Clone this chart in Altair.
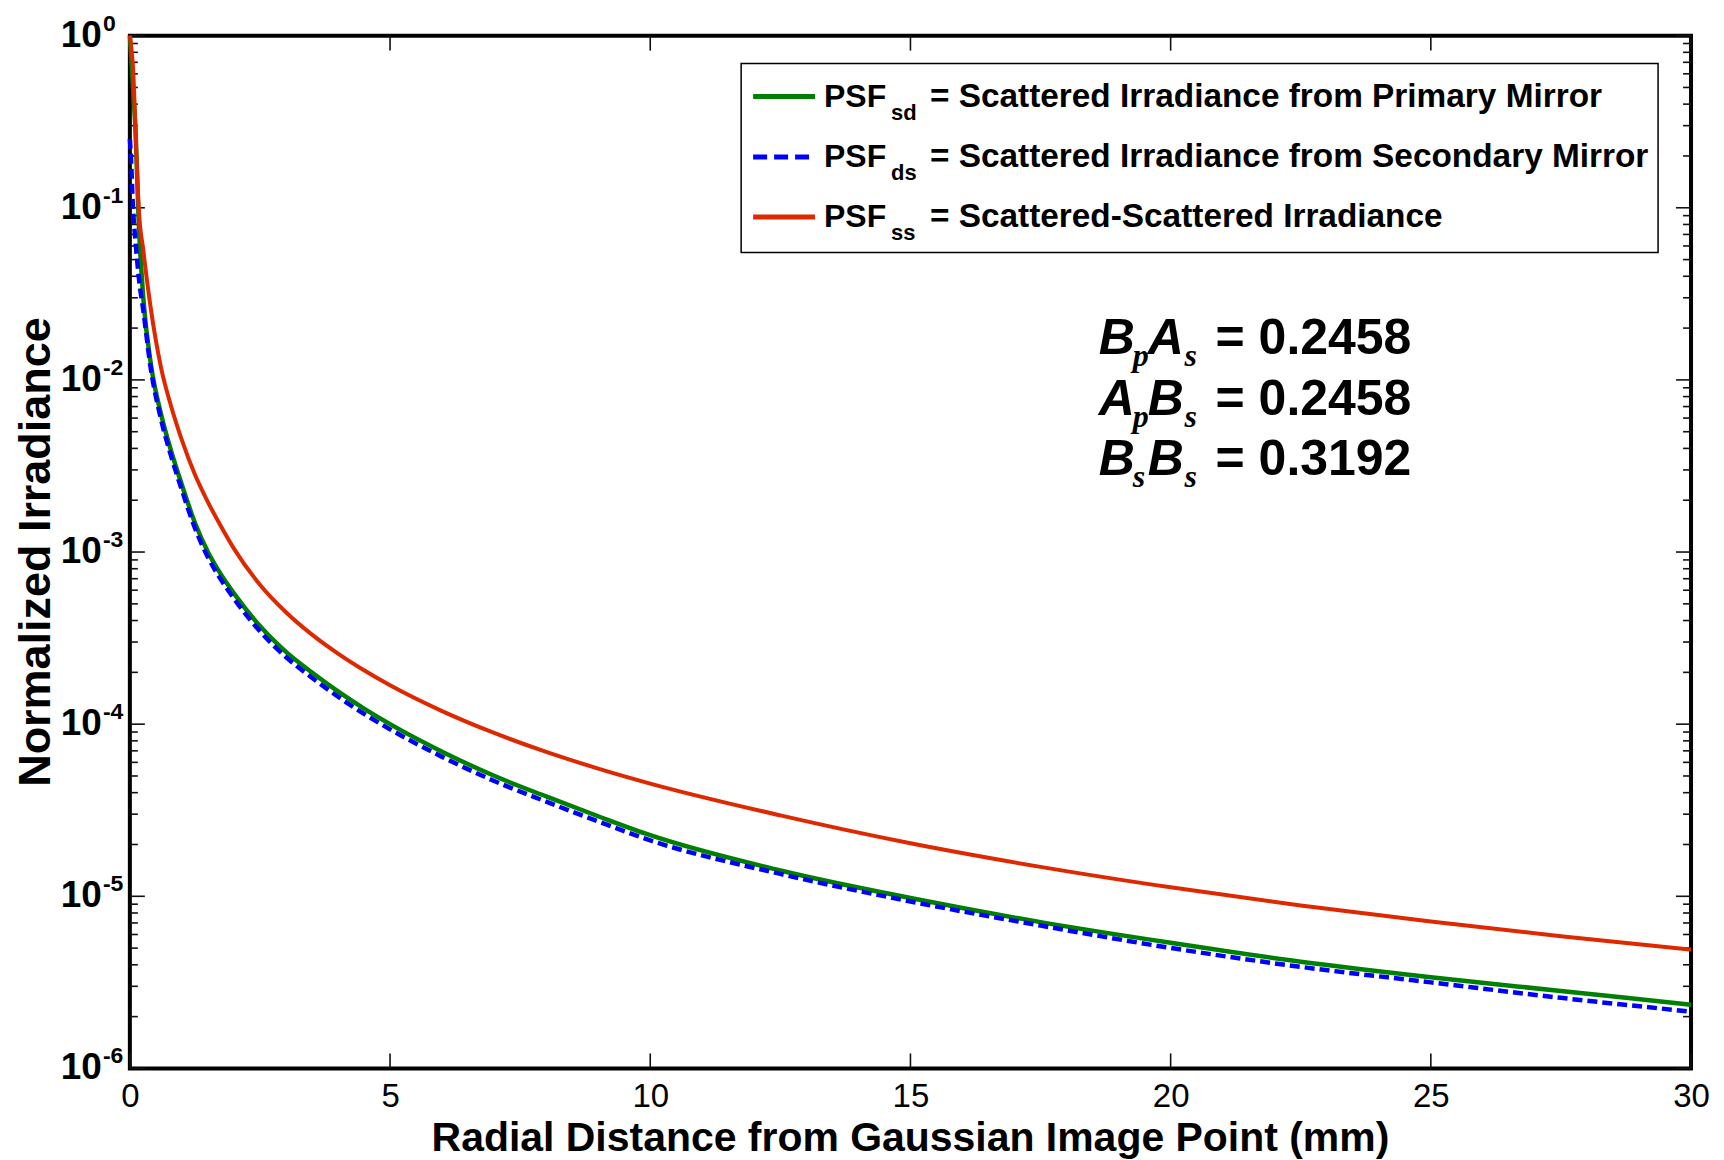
import altair as alt
import pandas as pd

# ---------------- data ----------------
x_mm = [0, 0.02, 0.06, 0.11, 0.17, 0.26, 0.4, 0.6, 0.8, 1.0, 1.25, 1.5, 1.75, 2.0, 2.5,
        3.0, 3.5, 4.0, 4.5, 5.0, 6.0, 7.0, 8.0, 9.0, 10, 12.5, 15, 17.5, 20, 22.5, 25, 27.5, 30]

# log10 of normalized irradiance
psf_sd_log = [0, -0.1, -0.3, -0.56, -1.08, -1.53, -1.90, -2.20, -2.42, -2.61, -2.83, -3.0,
              -3.13, -3.24, -3.43, -3.58, -3.70, -3.81, -3.91, -4.0, -4.16, -4.30, -4.42,
              -4.535, -4.645, -4.85, -5.01, -5.15, -5.27, -5.38, -5.47, -5.55, -5.63]
psf_ds_log = [-0.6, -0.7, -1.0, -1.2, -1.4, -1.6, -1.93, -2.23, -2.45, -2.64, -2.86, -3.03,
              -3.16, -3.27, -3.46, -3.61, -3.73, -3.84, -3.94, -4.03, -4.19, -4.33, -4.45,
              -4.565, -4.675, -4.87, -5.03, -5.17, -5.30, -5.41, -5.50, -5.59, -5.67]
psf_ss_log = [0, -0.05, -0.18, -0.56, -1.0, -1.25, -1.58, -1.93, -2.16, -2.35, -2.55, -2.71,
              -2.85, -2.98, -3.19, -3.35, -3.48, -3.59, -3.687, -3.774, -3.924, -4.051, -4.161,
              -4.258, -4.345, -4.53, -4.692, -4.829, -4.948, -5.053, -5.147, -5.232, -5.31]

x_ticks = [0, 5, 10, 15, 20, 25, 30]
y_exponents = [0, -1, -2, -3, -4, -5, -6]
y_exp_labels = ["0", "-1", "-2", "-3", "-4", "-5", "-6"]

legend_subs = ["sd", "ds", "ss"]
legend_texts = ["= Scattered Irradiance from Primary Mirror",
                "= Scattered Irradiance from Secondary Mirror",
                "= Scattered-Scattered Irradiance"]

ann_first = ["B", "A", "B"]
ann_sub1 = ["p", "p", "s"]
ann_second = ["A", "B", "B"]
ann_sub2 = ["s", "s", "s"]
ann_values = ["= 0.2458", "= 0.2458", "= 0.3192"]

# ---------------- styling ----------------
W, H = 1563, 1034
SANS = "Liberation Sans"
SERIF = "Liberation Serif"
GREEN, BLUE, RED = "#008000", "#0000FF", "#DE2900"

xs = alt.Scale(domain=[0, 30], nice=False, zero=False)
ys = alt.Scale(type="log", domain=[1e-6, 1], nice=False)
x_axis = alt.Axis(values=x_ticks, ticks=False, domain=False, grid=False, title=None,
                  labelFont=SANS, labelFontSize=33,
                  labelPadding=12, labelColor="black", labelFlush=False)


def X(field):
    return alt.X(field, type="quantitative", scale=xs, axis=x_axis)


def Y(field):
    return alt.Y(field, type="quantitative", scale=ys, axis=None)


def series_df(vals):
    return pd.DataFrame({"x": x_mm, "y": [10 ** v for v in vals]})


green = alt.Chart(series_df(psf_sd_log)).mark_line(
    color=GREEN, strokeWidth=4.5, interpolate="monotone").encode(x=X("x"), y=Y("y"))
blue = alt.Chart(series_df(psf_ds_log)).mark_line(
    color=BLUE, strokeWidth=4.5, strokeDash=[10, 5], interpolate="monotone").encode(x=X("x"), y=Y("y"))
red = alt.Chart(series_df(psf_ss_log)).mark_line(
    color=RED, strokeWidth=4, interpolate="monotone").encode(x=X("x"), y=Y("y"))

# ---------------- inward ticks on all four sides ----------------
xt_df = pd.DataFrame({"x": x_ticks})
ymaj_df = pd.DataFrame({"y": [10.0 ** e for e in y_exponents]})
ymin_df = pd.DataFrame({"y": [k * 10.0 ** e for e in range(-6, 0) for k in range(2, 10)]})
TK = dict(color="#111111", strokeWidth=1.6)

ticks = [
    alt.Chart(xt_df).mark_rule(**TK).encode(x=X("x"), y=alt.value(H), y2=alt.value(H - 15)),
    alt.Chart(xt_df).mark_rule(**TK).encode(x=X("x"), y=alt.value(0), y2=alt.value(15)),
    alt.Chart(ymaj_df).mark_rule(**TK).encode(y=Y("y"), x=alt.value(0), x2=alt.value(15)),
    alt.Chart(ymaj_df).mark_rule(**TK).encode(y=Y("y"), x=alt.value(W), x2=alt.value(W - 15)),
    alt.Chart(ymin_df).mark_rule(**TK).encode(y=Y("y"), x=alt.value(0), x2=alt.value(8)),
    alt.Chart(ymin_df).mark_rule(**TK).encode(y=Y("y"), x=alt.value(W), x2=alt.value(W - 8)),
]

# ---------------- y tick labels 10^n ----------------
ylab_df = pd.DataFrame({"y": [10.0 ** e for e in y_exponents], "exp": y_exp_labels})
ylab_base = alt.Chart(ylab_df).mark_text(
    text="10", font=SANS, fontSize=37, fontWeight="bold", align="right", baseline="middle",
    color="black").encode(y=Y("y"), x=alt.value(-28))
ylab_exp = alt.Chart(ylab_df).mark_text(
    font=SANS, fontSize=23, fontWeight="bold", align="left", baseline="alphabetic",
    dy=-5, color="black").encode(y=Y("y"), x=alt.value(-27), text="exp:N")

one = pd.DataFrame({"a": [0]})


def txt(s, x, y, size, weight="bold", style="normal", font=SANS, align="left",
        baseline="alphabetic", angle=0):
    return alt.Chart(one).mark_text(
        text=s, fontSize=size, fontWeight=weight, fontStyle=style, font=font,
        align=align, baseline=baseline, angle=angle, color="black"
    ).encode(x=alt.value(x), y=alt.value(y))


titles = [
    txt("Radial Distance from Gaussian Image Point (mm)", W / 2, 1117, 41, align="center"),
    txt("Normalized Irradiance", -80, 517, 45, align="center", angle=270),
]

# ---------------- legend box ----------------
legend_box = alt.Chart(one).mark_rect(fill="white", stroke="black", strokeWidth=1.5).encode(
    x=alt.value(612), x2=alt.value(1530), y=alt.value(28), y2=alt.value(217))

leg_y = [61, 121.5, 181.5]
leg_colors = [GREEN, BLUE, RED]
leg_dash = [[1, 0], [14, 7], [1, 0]]
legend_layers = [legend_box]
for i in range(3):
    yy = leg_y[i]
    legend_layers.append(
        alt.Chart(one).mark_rule(color=leg_colors[i], strokeWidth=5, strokeDash=leg_dash[i]).encode(
            x=alt.value(624), x2=alt.value(686), y=alt.value(yy)))
    base = yy + 10
    legend_layers.append(txt("PSF", 695, base, 32))
    legend_layers.append(txt(legend_subs[i], 762, base + 13.5, 22))
    legend_layers.append(txt(legend_texts[i], 801, base, 33.4))

# ---------------- annotation ----------------
ann_layers = []
ann_base = [319, 379.5, 440]
for i in range(3):
    b = ann_base[i]
    ann_layers.append(txt(ann_first[i], 970, b, 50, style="italic"))
    ann_layers.append(txt(ann_sub1[i], 1004, b + 12, 32, style="italic", font=SERIF))
    ann_layers.append(txt(ann_second[i], 1019, b, 50, style="italic"))
    ann_layers.append(txt(ann_sub2[i], 1056, b + 12, 32, style="italic", font=SERIF))
    ann_layers.append(txt(ann_values[i], 1087, b, 50))

chart = alt.layer(
    *ticks, green, blue, red, ylab_base, ylab_exp, *titles, *legend_layers, *ann_layers
).properties(
    width=W, height=H,
    autosize=alt.AutoSizeParams(type="none"),
    padding={"left": 122, "top": 27, "right": 25, "bottom": 90},
    background="white",
).configure_view(stroke="black", strokeWidth=4)

chart.save("out.html", embed_options={"renderer": "svg", "actions": False})
